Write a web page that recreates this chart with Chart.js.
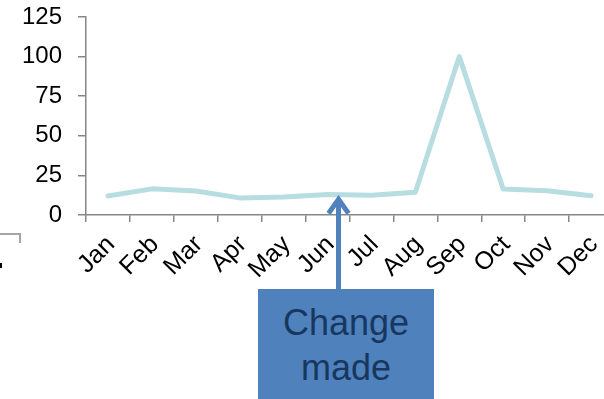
<!DOCTYPE html>
<html>
<head>
<meta charset="utf-8">
<script src="https://cdn.jsdelivr.net/npm/chart.js@4/dist/chart.umd.min.js"></script>
<style>
  html, body { margin: 0; padding: 0; background: #fff; overflow: hidden; width: 604px; height: 399px; }
  #wrap { position: relative; width: 640px; height: 399px; }
  #note {
    position: absolute; left: 258px; top: 289px; width: 176px; height: 130px;
    background: #4F81BD; color: #17375E;
    font-family: "Liberation Sans", Arial, sans-serif; font-size: 36px; line-height: 45px;
    text-align: center; padding-top: 11px; box-sizing: border-box;
  }
</style>
</head>
<body>
<div id="wrap">
  <canvas id="c" width="640" height="399"></canvas>
  <div id="note">Change<br>made</div>
</div>
<script>
const months = ["Jan","Feb","Mar","Apr","May","Jun","Jul","Aug","Sep","Oct","Nov","Dec"];
const values = [12, 16.5, 15.2, 10.8, 11.4, 13, 12.4, 14.3, 100, 16.4, 15.3, 12.2];
const yTicks = [0, 25, 50, 75, 100, 125];
const annotationIndex = 5;     // the month the "Change made" arrow points at
const annotationShift = 0.25;  // fraction of a category to the right of that month

const extras = {
  id: 'extras',
  afterDraw(chart) {
    const ctx = chart.ctx;
    const xs = chart.scales.x;
    const cat = xs.getPixelForValue(1) - xs.getPixelForValue(0);
    const x = xs.getPixelForValue(annotationIndex) + annotationShift * cat;
    const yTip = chart.scales.y.getPixelForValue(values[annotationIndex]) + 2;
    const yBase = 289;
    ctx.save();
    ctx.strokeStyle = '#4F81BD';
    ctx.lineWidth = 5;
    ctx.lineCap = 'butt';
    ctx.beginPath();
    ctx.moveTo(x, yBase);
    ctx.lineTo(x, yTip + 3);
    ctx.stroke();
    ctx.lineJoin = 'miter';
    ctx.beginPath();
    ctx.moveTo(x - 10, yTip + 17);
    ctx.lineTo(x, yTip + 3);
    ctx.lineTo(x + 10, yTip + 17);
    ctx.stroke();
    // cropped bracket fragment at left edge
    ctx.strokeStyle = '#A6A6A6';
    ctx.lineWidth = 2;
    ctx.beginPath();
    ctx.moveTo(0, 234);
    ctx.lineTo(20, 234);
    ctx.lineTo(20, 243);
    ctx.stroke();
    ctx.fillStyle = '#000';
    ctx.fillRect(0, 263, 2, 5);
    ctx.restore();
  }
};

new Chart(document.getElementById('c'), {
  type: 'line',
  data: {
    labels: months,
    datasets: [{
      data: values,
      borderColor: '#B7DDE0',
      borderWidth: 5,
      pointRadius: 0,
      tension: 0,
      borderCapStyle: 'round',
      borderJoinStyle: 'round'
    }]
  },
  options: {
    responsive: false,
    animation: false,
    layout: { padding: { top: 17, left: 0, right: 27, bottom: 0 } },
    plugins: { legend: { display: false }, tooltip: { enabled: false } },
    scales: {
      x: {
        offset: true,
        grid: { offset: true, drawOnChartArea: false, drawTicks: true, tickLength: 7, color: '#868686', lineWidth: 1.5 },
        border: { color: '#868686', width: 1.5 },
        ticks: {
          color: '#000', maxRotation: 45, minRotation: 45, autoSkip: false, padding: 8, labelOffset: 3,
          font: { family: '"Liberation Sans", Arial, sans-serif', size: 25 }
        },
        afterFit(s) { s.height = 184; }
      },
      y: {
        min: 0, max: 125,
        afterBuildTicks(s) { s.ticks = yTicks.map(v => ({ value: v })); },
        grid: { drawOnChartArea: false, drawTicks: true, tickLength: 8, color: '#868686', lineWidth: 1.5 },
        border: { color: '#868686', width: 1.5 },
        ticks: {
          color: '#000', padding: 16,
          font: { family: '"Liberation Sans", Arial, sans-serif', size: 24 }
        },
        afterFit(s) { s.width = 86; s.paddingTop = 12; s.paddingBottom = 12; }
      }
    }
  },
  plugins: [extras]
});
</script>
</body>
</html>
